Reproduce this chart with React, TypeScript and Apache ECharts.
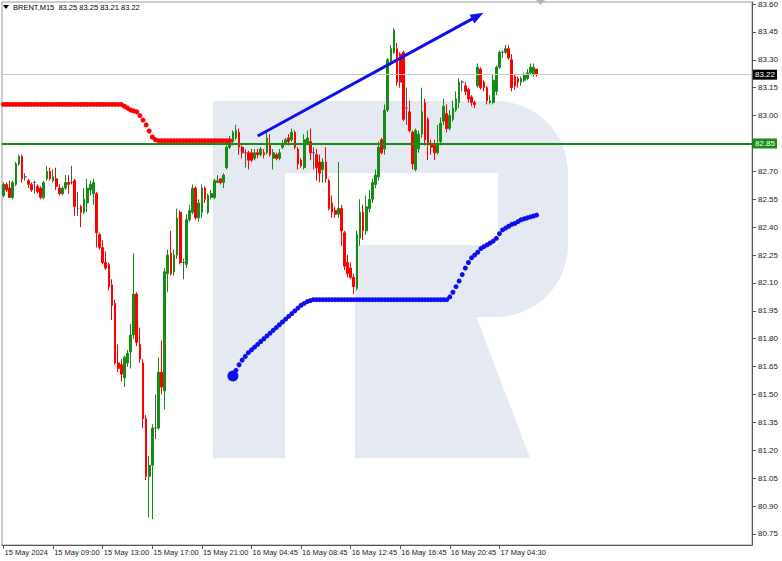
import React, { useEffect, useRef } from 'react';
import * as echarts from 'echarts';

const titleText = 'BRENT,M15  83.25 83.25 83.21 83.22';
const xTickLabels = ['15 May 2024', '15 May 09:00', '15 May 13:00', '15 May 17:00', '15 May 21:00', '16 May 04:45', '16 May 08:45', '16 May 12:45', '16 May 16:45', '16 May 20:45', '17 May 04:30'];
const xTickEvery = 16;
const slotCount = 242;
const priceTicks = [80.75, 80.9, 81.05, 81.2, 81.35, 81.5, 81.65, 81.8, 81.95, 82.1, 82.25, 82.4, 82.55, 82.7, 82.85, 83.0, 83.15, 83.3, 83.45, 83.6];
const priceMin = 80.6908;
const priceMax = 83.6108;

const opens = [
  82.57, 82.63, 82.61, 82.56, 82.63, 82.74, 82.78, 82.67, 82.65, 82.63,
  82.64, 82.62, 82.61, 82.56, 82.66, 82.70, 82.65, 82.66, 82.61, 82.58,
  82.61, 82.64, 82.64, 82.65, 82.50, 82.51, 82.48, 82.53, 82.60, 82.58,
  82.58, 82.36, 82.29, 82.21, 82.20, 82.09, 81.99, 81.67, 81.66, 81.59,
  81.67, 81.73, 81.82, 82.04, 81.77, 81.67, 81.37, 81.06, 81.12, 81.32,
  81.32, 81.62, 81.52, 82.15, 82.26, 82.16, 82.25, 82.48, 82.21, 82.20,
  82.44, 82.48, 82.61, 82.45, 82.48, 82.61, 82.48, 82.56, 82.56, 82.64,
  82.66, 82.64, 82.72, 82.83, 82.86, 82.88, 82.91, 82.83, 82.80, 82.80,
  82.80, 82.77, 82.80, 82.79, 82.80, 82.80, 82.85, 82.77, 82.79, 82.77,
  82.83, 82.85, 82.88, 82.87, 82.91, 82.82, 82.76, 82.72, 82.85, 82.86,
  82.80, 82.79, 82.75, 82.71, 82.75, 82.65, 82.53, 82.49, 82.47, 82.50,
  82.37, 82.21, 82.18, 82.13, 82.07, 82.34, 82.48, 82.38, 82.50, 82.55,
  82.63, 82.67, 82.87, 82.82, 83.03, 83.29, 83.34, 83.36, 83.33, 83.34,
  83.04, 83.02, 82.91, 82.71, 82.82, 82.90, 83.07, 82.98, 82.85, 82.84,
  82.80, 82.86, 82.97, 83.01, 82.93, 82.98, 83.03, 83.07, 83.18, 83.16,
  83.14, 83.10, 83.07, 83.16, 83.25, 83.18, 83.15, 83.07, 83.07, 83.13,
  83.26, 83.34, 83.34, 83.36, 83.30, 83.21, 83.20, 83.18, 83.19, 83.20,
  83.23, 83.22, 83.25,
];
const closes = [
  82.63, 82.60, 82.56, 82.64, 82.74, 82.78, 82.66, 82.67, 82.63, 82.60,
  82.64, 82.59, 82.56, 82.64, 82.70, 82.66, 82.67, 82.62, 82.58, 82.61,
  82.64, 82.63, 82.64, 82.51, 82.50, 82.48, 82.55, 82.61, 82.63, 82.64,
  82.37, 82.29, 82.21, 82.18, 82.08, 81.98, 81.67, 81.64, 81.61, 81.70,
  81.72, 81.82, 82.04, 81.78, 81.69, 81.37, 81.06, 81.12, 81.32, 81.32,
  81.62, 81.54, 82.16, 82.25, 82.15, 82.25, 82.45, 82.21, 82.21, 82.44,
  82.49, 82.61, 82.45, 82.53, 82.61, 82.55, 82.57, 82.58, 82.65, 82.65,
  82.64, 82.68, 82.83, 82.87, 82.91, 82.92, 82.83, 82.80, 82.80, 82.76,
  82.76, 82.80, 82.79, 82.82, 82.79, 82.88, 82.79, 82.80, 82.77, 82.80,
  82.85, 82.87, 82.86, 82.91, 82.83, 82.74, 82.73, 82.87, 82.88, 82.80,
  82.80, 82.72, 82.69, 82.75, 82.66, 82.50, 82.48, 82.47, 82.50, 82.38,
  82.19, 82.15, 82.13, 82.08, 82.36, 82.48, 82.38, 82.51, 82.55, 82.64,
  82.68, 82.83, 82.80, 83.03, 83.30, 83.36, 83.46, 83.18, 83.18, 82.98,
  83.04, 82.92, 82.74, 82.92, 82.90, 83.02, 82.87, 82.85, 82.83, 82.80,
  82.85, 82.96, 83.05, 82.93, 83.00, 83.04, 83.09, 83.18, 83.18, 83.13,
  83.09, 83.07, 83.06, 83.26, 83.15, 83.15, 83.08, 83.08, 83.19, 83.26,
  83.34, 83.34, 83.36, 83.31, 83.15, 83.16, 83.18, 83.20, 83.22, 83.23,
  83.26, 83.26, 83.22,
];
const lows = [
  82.56, 82.59, 82.56, 82.55, 82.62, 82.73, 82.64, 82.65, 82.61, 82.59,
  82.58, 82.58, 82.55, 82.55, 82.65, 82.65, 82.64, 82.60, 82.57, 82.57,
  82.60, 82.58, 82.63, 82.46, 82.46, 82.40, 82.47, 82.48, 82.57, 82.52,
  82.29, 82.28, 82.20, 82.17, 82.06, 81.90, 81.66, 81.62, 81.57, 81.54,
  81.65, 81.64, 81.80, 81.76, 81.67, 81.32, 81.04, 80.84, 80.83, 81.26,
  81.31, 81.50, 81.42, 82.05, 82.14, 82.14, 82.23, 82.20, 82.12, 82.18,
  82.43, 82.47, 82.44, 82.43, 82.45, 82.53, 82.47, 82.55, 82.55, 82.64,
  82.63, 82.61, 82.71, 82.82, 82.84, 82.87, 82.79, 82.77, 82.72, 82.71,
  82.75, 82.76, 82.77, 82.78, 82.77, 82.79, 82.78, 82.71, 82.76, 82.76,
  82.82, 82.84, 82.84, 82.86, 82.82, 82.71, 82.72, 82.71, 82.84, 82.76,
  82.71, 82.65, 82.64, 82.64, 82.64, 82.49, 82.45, 82.45, 82.45, 82.30,
  82.17, 82.13, 82.12, 82.04, 82.06, 82.30, 82.33, 82.36, 82.48, 82.53,
  82.61, 82.65, 82.79, 82.79, 83.02, 83.27, 83.33, 83.16, 83.15, 82.97,
  82.95, 82.91, 82.71, 82.70, 82.80, 82.88, 82.84, 82.76, 82.79, 82.76,
  82.79, 82.84, 82.95, 82.91, 82.92, 82.97, 83.02, 83.04, 83.13, 83.11,
  83.07, 83.05, 83.04, 83.15, 83.14, 83.13, 83.06, 83.06, 83.06, 83.11,
  83.25, 83.31, 83.33, 83.30, 83.13, 83.14, 83.15, 83.16, 83.18, 83.19,
  83.22, 83.21, 83.21,
];
const highs = [
  82.64, 82.64, 82.65, 82.65, 82.75, 82.79, 82.79, 82.69, 82.66, 82.64,
  82.65, 82.63, 82.62, 82.65, 82.73, 82.72, 82.71, 82.72, 82.63, 82.62,
  82.68, 82.68, 82.73, 82.66, 82.59, 82.52, 82.61, 82.66, 82.65, 82.66,
  82.59, 82.37, 82.33, 82.27, 82.21, 82.12, 82.01, 81.77, 81.69, 81.71,
  81.74, 81.88, 82.26, 82.05, 81.86, 81.69, 81.39, 81.17, 81.34, 81.50,
  81.70, 81.79, 82.18, 82.28, 82.38, 82.28, 82.50, 82.49, 82.23, 82.47,
  82.52, 82.63, 82.62, 82.55, 82.63, 82.62, 82.58, 82.60, 82.66, 82.68,
  82.66, 82.69, 82.84, 82.89, 82.92, 82.95, 82.93, 82.84, 82.82, 82.81,
  82.82, 82.82, 82.82, 82.83, 82.82, 82.91, 82.90, 82.82, 82.80, 82.82,
  82.87, 82.88, 82.90, 82.93, 82.92, 82.83, 82.77, 82.90, 82.92, 82.93,
  82.83, 82.82, 82.79, 82.77, 82.83, 82.66, 82.57, 82.51, 82.75, 82.52,
  82.38, 82.25, 82.21, 82.15, 82.38, 82.55, 82.52, 82.57, 82.60, 82.66,
  82.71, 82.86, 82.88, 83.06, 83.31, 83.38, 83.47, 83.39, 83.34, 83.35,
  83.15, 83.08, 82.92, 82.93, 82.92, 83.15, 83.09, 82.99, 82.87, 82.87,
  82.95, 82.99, 83.09, 83.06, 83.03, 83.08, 83.13, 83.20, 83.19, 83.18,
  83.15, 83.11, 83.08, 83.28, 83.26, 83.19, 83.16, 83.11, 83.22, 83.27,
  83.35, 83.35, 83.38, 83.38, 83.33, 83.22, 83.21, 83.21, 83.23, 83.25,
  83.28, 83.28, 83.25,
];

const redDotsStart = 0;
const redDots = [
  83.06, 83.06, 83.06, 83.06, 83.06, 83.06, 83.06, 83.06, 83.06, 83.06,
  83.06, 83.06, 83.06, 83.06, 83.06, 83.06, 83.06, 83.06, 83.06, 83.06,
  83.06, 83.06, 83.06, 83.06, 83.06, 83.06, 83.06, 83.06, 83.06, 83.06,
  83.06, 83.06, 83.06, 83.06, 83.06, 83.06, 83.06, 83.06, 83.06, 83.05,
  83.04, 83.03, 83.025, 83.02, 83.0, 82.976, 82.95, 82.917, 82.885, 82.87,
  82.865, 82.865, 82.865, 82.865, 82.865, 82.865, 82.865, 82.865, 82.865, 82.865,
  82.865, 82.865, 82.865, 82.865, 82.865, 82.865, 82.865, 82.865, 82.865, 82.865,
  82.865, 82.865, 82.865, 82.865,
];
const blueDotsStart = 74;
const blueDots = [
  81.6, 81.63, 81.66, 81.685, 81.705, 81.725, 81.74, 81.755, 81.77, 81.785,
  81.8, 81.815, 81.83, 81.845, 81.86, 81.875, 81.89, 81.905, 81.92, 81.935,
  81.95, 81.965, 81.98, 81.99, 82.0, 82.005,
  82.01, 82.01, 82.01, 82.01, 82.01, 82.01, 82.01, 82.01, 82.01, 82.01,
  82.01, 82.01, 82.01, 82.01, 82.01, 82.01, 82.01, 82.01, 82.01, 82.01,
  82.01, 82.01, 82.01, 82.01, 82.01, 82.01, 82.01, 82.01, 82.01, 82.01,
  82.01, 82.01, 82.01, 82.01, 82.01, 82.01, 82.01, 82.01, 82.01, 82.01,
  82.01, 82.01, 82.01, 82.01,
  82.025, 82.05, 82.08, 82.11, 82.145, 82.18, 82.21, 82.235, 82.25, 82.265,
  82.285, 82.295, 82.305, 82.315, 82.325, 82.34, 82.365, 82.385, 82.395, 82.405,
  82.415, 82.42, 82.43, 82.44, 82.445, 82.45, 82.455, 82.46, 82.465,
];
const trendFrom = [82, 82.89];
const trendTo = [153, 83.536];
const supportLevel = 82.85;
const lastPrice = 83.22;

const FONT = 'Liberation Sans, Arial, sans-serif';
const GREEN = '#168c16';
const RED = '#ff0000';
const BLUE = '#0f0fee';
const WM = '#e4e9f2';

export default function App() {
  const ref = useRef<HTMLDivElement>(null);
  useEffect(() => {
    const chart = echarts.init(ref.current!, null, { renderer: 'svg' });
    const categories = Array.from({ length: slotCount }, (_, i) => String(i));
    const candles = opens.map((o, i) => [o, closes[i], lows[i], highs[i]]);
    const redData = redDots.map((v, k) => [redDotsStart + k, v]);
    const blueData = blueDots.map((v, k) =>
      k === 0 ? { value: [blueDotsStart + k, v], symbolSize: 11 } : [blueDotsStart + k, v]
    );
    const showTick = (index: number) => index % xTickEvery === 0 && index / xTickEvery < xTickLabels.length;
    // the axis label under the support tag is hidden by the tag itself
    const labelTicks = priceTicks.filter((t) => Math.abs(t - supportLevel) > 1e-6);

    const option: any = {
      animation: false,
      backgroundColor: '#ffffff',
      grid: { left: 2, top: 2, width: 750, height: 543, show: true, borderColor: '#9a9a9a', borderWidth: 1 },
      graphic: [
        { type: 'rect', z: 0, shape: { x: 213, y: 101, width: 355, height: 216, r: [0, 72, 72, 0] }, style: { fill: WM } },
        { type: 'rect', z: 0, shape: { x: 213, y: 101, width: 72, height: 357 }, style: { fill: WM } },
        { type: 'polygon', z: 0, shape: { points: [[355, 300], [470, 300], [530, 458], [355, 458]] }, style: { fill: WM } },
        { type: 'rect', z: 0, shape: { x: 285, y: 173, width: 213, height: 72 }, style: { fill: '#ffffff' } },
        { type: 'rect', z: 0, shape: { x: 285, y: 245, width: 70, height: 213 }, style: { fill: '#ffffff' } },
        { type: 'polygon', z: 10, shape: { points: [[3, 5], [9, 5], [6, 9]] }, style: { fill: '#000' } },
        { type: 'text', z: 10, x: 13, y: 3, style: { text: titleText, font: `7.5px ${FONT}`, fill: '#000' } },
        { type: 'polygon', z: 10, shape: { points: [[536, 0], [545, 0], [540.5, 5]] }, style: { fill: '#b4b4b4' } },
      ],
      xAxis: {
        type: 'category',
        data: categories,
        boundaryGap: true,
        axisLine: { show: true, lineStyle: { color: '#555', width: 1 } },
        axisTick: { show: true, interval: showTick, alignWithLabel: true, length: 4, lineStyle: { color: '#555' } },
        axisLabel: {
          interval: showTick,
          formatter: (_v: string, i: number) => (showTick(i) ? xTickLabels[i / xTickEvery] : ''),
          align: 'left',
          padding: [0, 0, 0, 1],
          margin: 3,
          fontSize: 7.5,
          fontFamily: FONT,
          color: '#222',
        },
        splitLine: { show: false },
      },
      yAxis: {
        type: 'value',
        position: 'right',
        min: priceMin,
        max: priceMax,
        splitLine: { show: false },
        axisLine: { show: true, lineStyle: { color: '#555', width: 1 } },
        axisTick: { show: true, length: 4, customValues: priceTicks, lineStyle: { color: '#555' } },
        axisLabel: {
          customValues: labelTicks,
          formatter: (v: number) => v.toFixed(2),
          margin: 6,
          fontSize: 8,
          fontFamily: FONT,
          color: '#222',
        },
      },
      series: [
        {
          type: 'candlestick',
          data: candles,
          barWidth: 2.2,
          z: 3,
          itemStyle: {
            color: GREEN,
            color0: RED,
            borderColor: GREEN,
            borderColor0: RED,
            borderColorDoji: '#555',
            borderWidth: 1,
          },
          markLine: {
            silent: true,
            symbol: ['none', 'none'],
            data: [
              {
                yAxis: lastPrice,
                lineStyle: { color: '#c8c8c8', width: 1, type: 'solid' },
                label: {
                  show: true, position: 'end', distance: 1, formatter: lastPrice.toFixed(2),
                  color: '#fff', backgroundColor: '#000', padding: [1, 2, 1, 2], fontSize: 8, fontFamily: FONT,
                },
              },
              {
                yAxis: supportLevel,
                lineStyle: { color: GREEN, width: 2, type: 'solid' },
                label: {
                  show: true, position: 'end', distance: 1, formatter: supportLevel.toFixed(2),
                  color: '#fff', backgroundColor: GREEN, padding: [1, 2, 1, 2], fontSize: 8, fontFamily: FONT,
                },
              },
            ],
          },
        },
        {
          type: 'line',
          data: redData,
          z: 4,
          symbol: 'circle',
          symbolSize: 5,
          showSymbol: true,
          showAllSymbol: true,
          lineStyle: { opacity: 0 },
          itemStyle: { color: RED },
        },
        {
          type: 'line',
          data: blueData,
          z: 4,
          symbol: 'circle',
          symbolSize: 5,
          showSymbol: true,
          showAllSymbol: true,
          lineStyle: { opacity: 0 },
          itemStyle: { color: BLUE },
          markLine: {
            silent: true,
            symbol: ['none', 'triangle'],
            symbolSize: [10, 13],
            lineStyle: { color: BLUE, width: 3, type: 'solid' },
            label: { show: false },
            data: [[{ coord: [String(trendFrom[0]), trendFrom[1]] }, { coord: [String(trendTo[0]), trendTo[1]] }]],
          },
        },
      ],
    };
    chart.setOption(option);
    return () => chart.dispose();
  }, []);
  return <div ref={ref} style={{ position: 'fixed', left: 0, top: 0, width: 782, height: 561, background: '#fff' }} />;
}
